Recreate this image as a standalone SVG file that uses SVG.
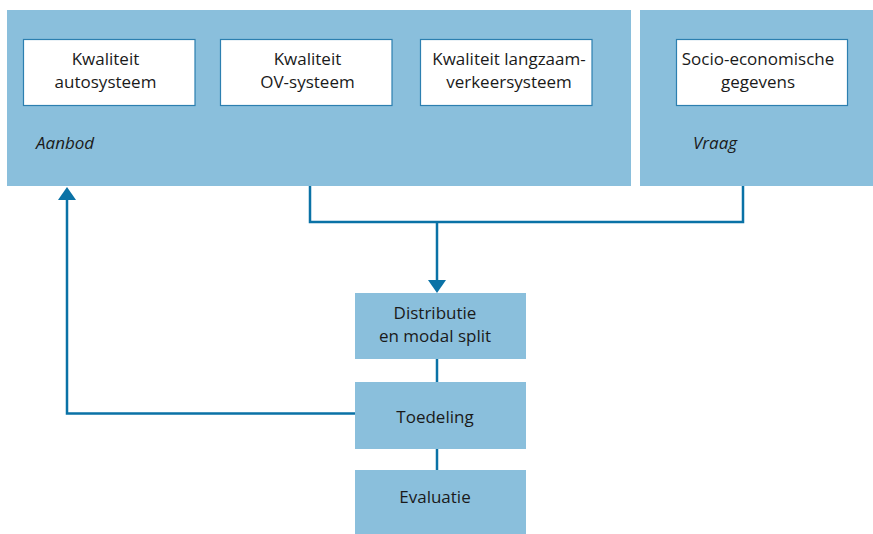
<svg xmlns="http://www.w3.org/2000/svg" width="873" height="534" viewBox="0 0 873 534">
<style>
.panel{fill:#8abfdc}
.wbox{fill:#fff;stroke:#2c7fb0;stroke-width:1.2}
.t{font-family:"Open Sans","Noto Sans",sans-serif;font-size:17px;fill:#1a1a1a;text-anchor:middle}
.lab{font-family:"Open Sans","Noto Sans",sans-serif;font-size:17px;fill:#1a1a1a;font-style:italic}
.con{fill:none;stroke:#0a72a6;stroke-width:2.5}
.ah{fill:#0a72a6}
</style>
<g id="aanbod">
<rect class="panel" x="7" y="10" width="624" height="176"/>
<text class="lab" x="36" y="149">Aanbod</text>
</g>
<g id="vraag">
<rect class="panel" x="640" y="10" width="233" height="176"/>
<text class="lab" x="693" y="149">Vraag</text>
</g>
<g id="auto">
<rect class="wbox" x="23.5" y="39.5" width="171.5" height="66"/>
<text class="t" x="105.5" y="65">Kwaliteit</text>
<text class="t" x="105.5" y="88">autosysteem</text>
</g>
<g id="ov">
<rect class="wbox" x="220.5" y="39.5" width="171.5" height="66"/>
<text class="t" x="307.5" y="65">Kwaliteit</text>
<text class="t" x="307.5" y="88">OV-systeem</text>
</g>
<g id="langzaam">
<rect class="wbox" x="420.5" y="39.5" width="171.5" height="66"/>
<text class="t" x="509" y="65">Kwaliteit langzaam-</text>
<text class="t" x="509" y="88">verkeersysteem</text>
</g>
<g id="socio">
<rect class="wbox" x="676.5" y="39.5" width="171" height="66"/>
<text class="t" x="758" y="65">Socio-economische</text>
<text class="t" x="758" y="88">gegevens</text>
</g>
<g id="connectors">
<path class="con" d="M310,186 V222 H743 V186"/>
<path class="con" d="M437,222 V281"/>
<path class="ah" d="M428,280 L446,280 L437,293 Z"/>
<path class="con" d="M437,359 V382"/>
<path class="con" d="M437,449 V470"/>
<path class="con" d="M355,413.5 H67 V198"/>
<path class="ah" d="M58,200 L76,200 L67,187 Z"/>
</g>
<g id="distributie">
<rect class="panel" x="355" y="293" width="171" height="66"/>
<text class="t" x="435" y="319">Distributie</text>
<text class="t" x="435" y="342">en modal split</text>
</g>
<g id="toedeling">
<rect class="panel" x="355" y="382" width="171" height="67"/>
<text class="t" x="435" y="422.5">Toedeling</text>
</g>
<g id="evaluatie">
<rect class="panel" x="355" y="470" width="171" height="64"/>
<text class="t" x="435" y="503">Evaluatie</text>
</g>
</svg>
